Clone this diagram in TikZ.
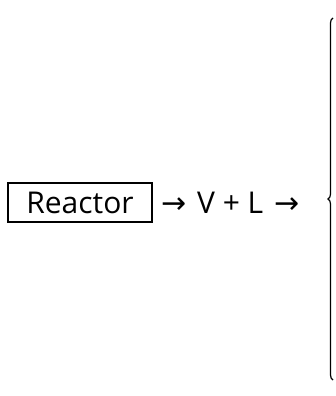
\documentclass[tikz,border=0pt]{standalone}
\usepackage{fontspec}
\setmainfont{Open Sans}
\newfontfamily\arrowfont{DejaVu Sans}
\usetikzlibrary{decorations.pathreplacing}
\begin{document}
\begin{tikzpicture}[x=1pt,y=1pt,
  boxstyle/.style={draw,line width=1.3pt,minimum width=144pt,minimum height=39pt,inner sep=0pt,font=\fontsize{30}{34}\selectfont},
  labelstyle/.style={inner sep=0pt,font=\fontsize{30}{34}\selectfont},
  bracestyle/.style={draw,line width=1.2pt,decorate,decoration={brace,amplitude=5pt}}]
\useasboundingbox (0,0) rectangle (335,396);
\node[boxstyle] (reactor) at (80,193.5) {Reactor};
\node[labelstyle,anchor=west] (flow) at (161,193) {{\arrowfont →}\hspace{3pt} V + L \hspace{3pt}{\arrowfont →}};
\coordinate (bbot) at (333,16);
\coordinate (btop) at (333,378);
\draw[bracestyle] (bbot) -- (btop);
\end{tikzpicture}
\end{document}
